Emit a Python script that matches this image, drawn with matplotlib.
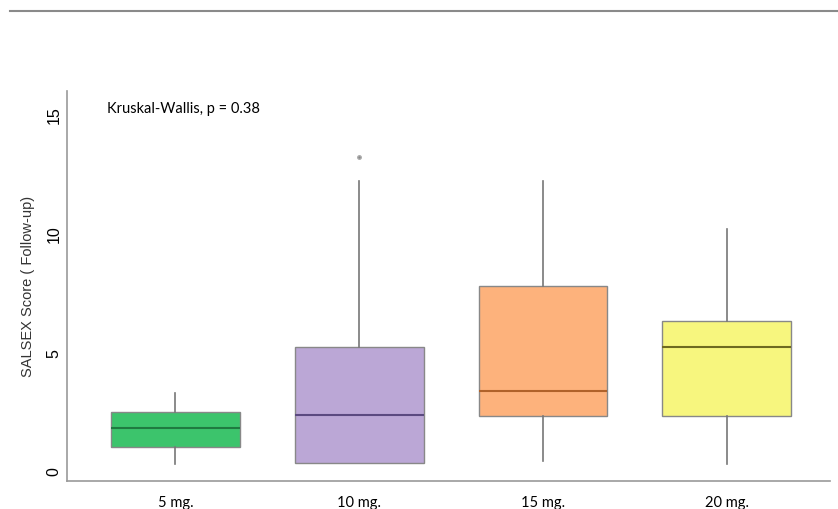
import matplotlib.pyplot as plt
from matplotlib.lines import Line2D

groups = ["5 mg.", "10 mg.", "15 mg.", "20 mg."]
whislo = [0.3, 0.35, 0.4, 0.3]
q1 = [1.0, 0.35, 2.3, 2.3]
med = [1.8, 2.35, 3.35, 5.2]
q3 = [2.5, 5.2, 7.8, 6.3]
whishi = [3.3, 12.2, 12.2, 10.2]
fliers = [[], [13.2], [], []]

box_colors = ["#3cc46c", "#bba7d6", "#fdb27c", "#f7f67e"]
median_colors = ["#1f7a40", "#5b4a80", "#b0622a", "#6e6a20"]

fig = plt.figure(figsize=(8.38, 5.1), dpi=100)
ax = fig.add_axes([0.080, 0.055, 0.910, 0.765])

stats = []
for i in range(len(groups)):
    stats.append({"whislo": whislo[i], "q1": q1[i], "med": med[i],
                  "q3": q3[i], "whishi": whishi[i], "fliers": fliers[i]})

pos = [1, 2, 3, 4]
bp = ax.bxp(stats, positions=pos, widths=0.7, patch_artist=True,
            showcaps=False,
            whiskerprops=dict(color="#777777", linewidth=1.2),
            flierprops=dict(marker="o", markersize=2.5, markerfacecolor="#888888",
                            markeredgecolor="#aaaaaa"),
            medianprops=dict(linewidth=1.5))
for patch, c in zip(bp["boxes"], box_colors):
    patch.set_facecolor(c)
    patch.set_edgecolor("#888888")
    patch.set_linewidth(1.0)
for m, c in zip(bp["medians"], median_colors):
    m.set_color(c)

ax.set_xlim(0.41, 4.56)
ax.set_ylim(-0.42, 16)
ax.set_xticks(pos)
ax.set_xticklabels(groups, family="Lato", fontsize=10.5)
ax.set_yticks([0, 5, 10, 15])
ax.set_yticklabels(["0", "5", "10", "15"], rotation=90, va="center",
                   family="Liberation Sans", fontsize=11.5)
ax.tick_params(length=0)
ax.tick_params(axis="y", pad=4)
ax.tick_params(axis="x", pad=10)
for s in ["top", "right"]:
    ax.spines[s].set_visible(False)
for s in ["left", "bottom"]:
    ax.spines[s].set_color("#999999")
    ax.spines[s].set_linewidth(1.2)

ax.set_ylabel("SALSEX Score ( Follow-up)", family="Liberation Sans",
              fontsize=10.5, color="#333333", labelpad=8)
ax.text(0.052, 0.955, "Kruskal-Wallis, p = 0.38", transform=ax.transAxes,
        family="Lato", fontsize=10.5, va="center", ha="left")

# thin gray rule across the top of the image
fig.add_artist(Line2D([0.012, 1.0], [0.976, 0.976], color="#8a8a8a",
                      linewidth=1.5, transform=fig.transFigure))

fig.savefig("out.png", dpi=100)
